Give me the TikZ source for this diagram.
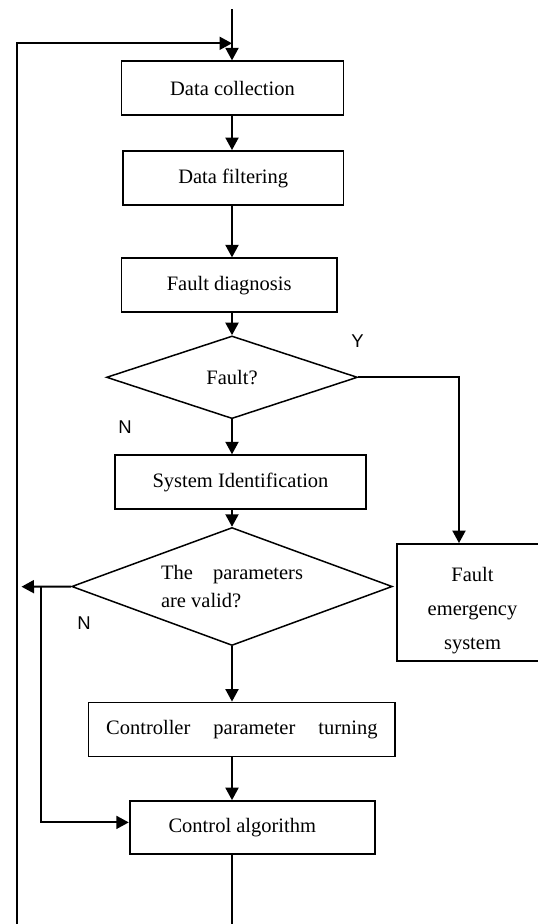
\documentclass[tikz,border=0pt]{standalone}
\usepackage{fontspec}
\setmainfont{Liberation Serif}
\newfontfamily\labfont{Liberation Sans}
\usetikzlibrary{shapes.geometric,arrows.meta}

\begin{document}
\begin{tikzpicture}[x=1pt,y=-1pt,
    box/.style={rectangle,draw,line width=1.8pt,minimum height=54pt,inner sep=0pt,
        font=\fontsize{20.5}{24}\selectfont},
    test/.style={diamond,draw,line width=1.5pt,inner sep=0pt,aspect=2.7,
        font=\fontsize{20.5}{28}\selectfont},
    arr/.style={line width=2pt,-{Triangle[length=12.5pt,width=13pt]}},
    lab/.style={font=\labfont\fontsize{18.5}{22}\selectfont}]
    \useasboundingbox (0,0) rectangle (538,924);
    \coordinate (spine) at (232,0);
    \coordinate (start) at (232,9);\coordinate (join) at (232,43.3);
    \coordinate (loopbot) at (16.5,924);\coordinate (end) at (232,924);
    \coordinate (exitN) at (21.5,586.7);\coordinate (branch) at (41,586.7);
    % main column
    \node[box,minimum width=222pt] (collect) at (232.5,88.3) {Data collection};
    \node[box,minimum width=220.5pt] (filter) at (233.2,178) {Data filtering};
    \node[box,minimum width=215.5pt] (diag) at (229.2,285.3) {Fault diagnosis};
    \node[test,minimum width=251pt,minimum height=82.7pt] (fault) at (232,377.3) {Fault?};
    \node[box,minimum width=251pt] (ident) at (240.5,482.2) {System Identification};
    \node[test,minimum width=320.6pt,minimum height=118pt,align=left] (valid) at (232,586.5)
        {\makebox[142pt][s]{The parameters}\\are valid?};
    \node[box,minimum width=306.8pt] (tuning) at (241.9,729.5)
        {\makebox[271.5pt][s]{Controller parameter turning}};
    \node[box,minimum width=245.3pt,minimum height=53.3pt] (control) at (252.3,827.7)
        {Control algorithm\hspace*{20pt}};
    \node[box,minimum width=151pt,minimum height=117pt] (emerg) at (472.5,602.5) {};
    \node[align=center,font=\fontsize{20.5}{34}\selectfont] (emergtxt) at (472.5,610.5)
        {Fault\\emergency\\system};
    % labels
    \node[lab] (yes) at (357.6,340.7) {Y};
    \node[lab] (no1) at (125,427.3) {N};
    \node[lab] (no2) at (84,623.3) {N};
    % connectors
    \draw[arr] (start) -- (collect.north -| spine);
    \draw[arr] (loopbot) |- (join);
    \draw[arr] (collect.south -| spine) -- (filter.north -| spine);
    \draw[arr] (filter.south -| spine) -- (diag.north -| spine);
    \draw[arr] (diag.south -| spine) -- (fault.north);
    \draw[arr] (fault.south) -- (ident.north -| spine);
    \draw[arr] (ident.south -| spine) -- (valid.north);
    \draw[arr] (fault.east) -| ([xshift=-13.5pt]emerg.north);
    \draw[arr] (valid.west) -- (exitN);
    \draw[arr] (branch) |- ([yshift=5.3pt]control.west);
    \draw[arr] (valid.south) -- (tuning.north -| spine);
    \draw[arr] (tuning.south -| spine) -- (control.north -| spine);
    \draw[line width=2pt] (control.south -| spine) -- (end);
\end{tikzpicture}
\end{document}
